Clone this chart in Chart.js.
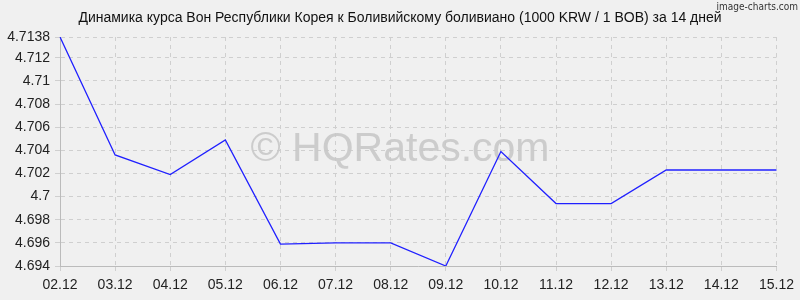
<!DOCTYPE html>
<html>
<head>
<meta charset="utf-8">
<script src="https://cdn.jsdelivr.net/npm/chart.js@4"></script>
<style>
  html, body { margin: 0; padding: 0; background: #f0f0f0; }
  #wrap { width: 800px; height: 300px; }
</style>
</head>
<body>
<div id="wrap"><canvas id="rateChart" width="800" height="300"></canvas></div>
<script>
// Data
const dates = ['02.12', '03.12', '04.12', '05.12', '06.12', '07.12', '08.12',
               '09.12', '10.12', '11.12', '12.12', '13.12', '14.12', '15.12'];
const rates = [4.7138, 4.7036, 4.7019, 4.7049, 4.6959, 4.6960, 4.6960,
               4.6940, 4.7039, 4.6994, 4.6994, 4.7023, 4.7023, 4.7023];
const yTickValues = [4.694, 4.696, 4.698, 4.7, 4.702, 4.704, 4.706, 4.708, 4.71, 4.712, 4.7138];
const yTickLabels = ['4.694', '4.696', '4.698', '4.7', '4.702', '4.704', '4.706', '4.708', '4.71', '4.712', '4.7138'];

const titleText = 'Динамика курса Вон Республики Корея к Боливийскому боливиано (1000 KRW / 1 BOB) за 14 дней';

const fontFamily = '"Liberation Sans", Arial, sans-serif';

// title centred on the whole canvas + the two watermarks
const decorations = {
  id: 'decorations',
  beforeDatasetsDraw(chart) {
    const ctx = chart.ctx;
    ctx.save();
    ctx.font = '41px ' + fontFamily;
    ctx.fillStyle = 'rgba(200,200,200,0.9)';
    ctx.textAlign = 'center';
    ctx.textBaseline = 'middle';
    ctx.fillText('© HQRates.com', 400, 150);
    ctx.restore();
  },
  afterDraw(chart) {
    const ctx = chart.ctx;
    ctx.save();
    ctx.textAlign = 'center';
    ctx.textBaseline = 'middle';
    ctx.fillStyle = '#111';
    ctx.font = '14px ' + fontFamily;
    ctx.fillText(titleText, 400, 18);

    ctx.font = '10px "Liberation Sans Narrow", "DejaVu Sans Condensed", sans-serif';
    ctx.fillStyle = '#333';
    ctx.textAlign = 'right';
    ctx.fillText('image-charts.com', 798, 7);
    ctx.restore();
  }
};

const gridStyle = {
  color: '#cfcfcf',
  lineWidth: 1,
  tickLength: 5,
  tickColor: '#cfcfcf'
};

new Chart(document.getElementById('rateChart').getContext('2d'), {
  type: 'line',
  data: {
    labels: dates,
    datasets: [{
      data: rates,
      borderColor: '#2020ff',
      borderWidth: 1.3,
      pointRadius: 0,
      tension: 0,
      fill: false
    }]
  },
  options: {
    responsive: false,
    animation: false,
    layout: { padding: { left: 0, right: 22, top: 37, bottom: 0 } },
    plugins: {
      legend: { display: false },
      tooltip: { enabled: false },
      title: { display: false }
    },
    scales: {
      x: {
        grid: gridStyle,
        border: { display: true, color: '#bbbbbb', dash: [4, 4] },
        ticks: {
          color: '#222',
          font: { family: fontFamily, size: 14 },
          padding: 6,
          maxRotation: 0,
          autoSkip: false
        },
        afterFit(scale) { scale.height = 34; }
      },
      y: {
        min: 4.694,
        max: 4.7138,
        grid: gridStyle,
        border: { display: true, color: '#bbbbbb', dash: [4, 4] },
        ticks: {
          color: '#222',
          font: { family: fontFamily, size: 14 },
          padding: 5,
          callback(value) {
            const i = yTickValues.findIndex(v => Math.abs(v - value) < 1e-7);
            return i >= 0 ? yTickLabels[i] : '';
          }
        },
        afterBuildTicks(scale) {
          scale.ticks = yTickValues.map(v => ({ value: v }));
        },
        afterFit(scale) { scale.width = 60; }
      }
    }
  },
  plugins: [decorations]
});
</script>
</body>
</html>
